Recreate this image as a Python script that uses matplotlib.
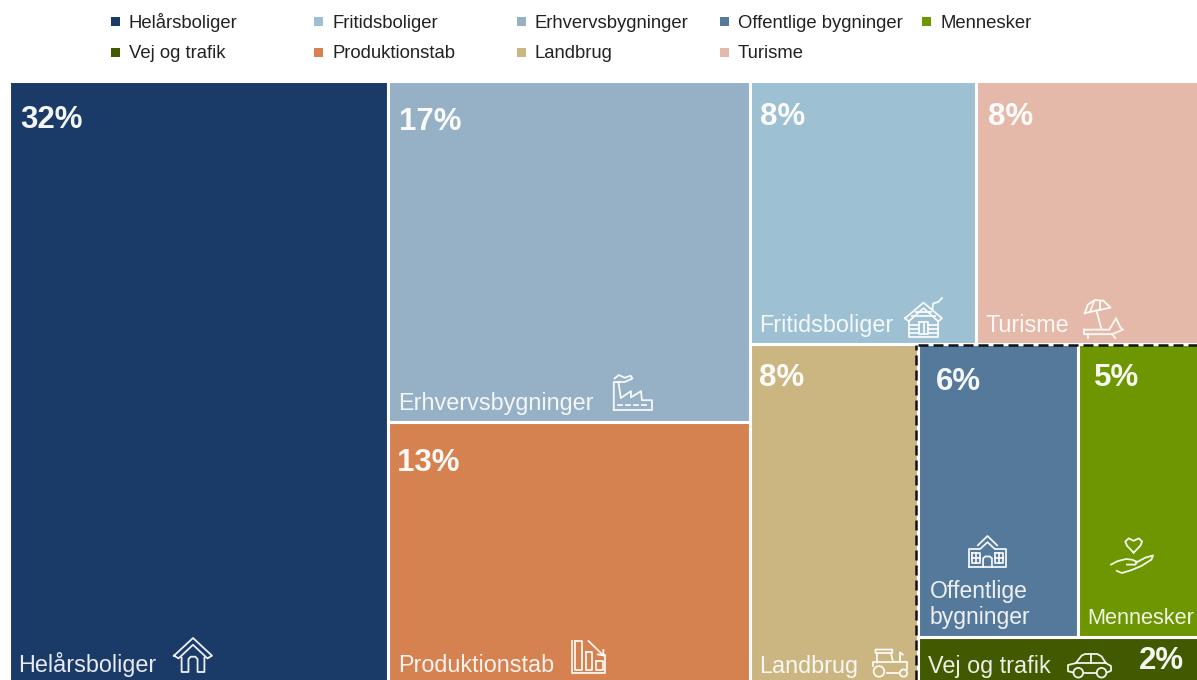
import numpy as np
import matplotlib
matplotlib.use("Agg")
import matplotlib.pyplot as plt
from matplotlib.patches import Rectangle, Circle

plt.rcParams['font.family'] = ['Liberation Sans', 'DejaVu Sans']

# tile areas (share of the total) and printed labels
names = ["Helårsboliger", "Erhvervsbygninger", "Produktionstab", "Fritidsboliger", "Turisme",
         "Landbrug", "Offentlige\nbygninger", "Mennesker", "Vej og trafik"]
shares = [31.87, 17.35, 13.17, 8.35, 8.16, 7.91, 6.58, 4.87, 1.74]
pct_labels = ["32%", "17%", "13%", "8%", "8%", "8%", "6%", "5%", "2%"]
colors = ["#1A3A68", "#96B0C5", "#D58250", "#9DC1D2", "#E5B9A9",
          "#CBB682", "#55799B", "#6E9600", "#415A00"]

legend_row1 = [0, 3, 1, 6, 7]
legend_row2 = [8, 2, 5, 4]
legend_x1 = [111, 314, 517, 720, 922]
legend_x2 = [111, 314, 517, 720]

# how the tiles nest: "x" splits sideways, "y" splits downwards
tree = ("x", [0,
              ("y", [1, 2]),
              ("y", [("x", [3, 4]),
                     ("x", [5,
                            ("y", [("x", [6, 7]), 8])])])])


def total(node):
    if isinstance(node, int):
        return shares[node]
    return sum(total(c) for c in node[1])


def layout(node, x0, y0, x1, y1, out):
    if isinstance(node, int):
        out[node] = (x0, y0, x1, y1)
        return
    t = total(node)
    pos = x0 if node[0] == "x" else y0
    for c in node[1]:
        if node[0] == "x":
            end = pos + (x1 - x0) * total(c) / t
            layout(c, pos, y0, end, y1, out)
        else:
            end = pos + (y1 - y0) * total(c) / t
            layout(c, x0, pos, x1, end, out)
        pos = end


# small line icons, in a 0-1 box
house = [[(0, .52), (.5, 0), (1, .52), (.88, .6), (.5, .2), (.12, .6), (0, .52)],
         [(.2, .58), (.2, 1), (.38, 1), (.38, .62), (.44, .55), (.56, .55), (.62, .62), (.62, 1), (.8, 1), (.8, .58)]]
factory = [[(.02, 1), (.02, .2), (.14, .2), (.2, .66), (.46, .46), (.46, .64), (.72, .46),
            (.74, .72), (1, .72), (1, 1), (.02, 1)],
           [(.04, .1), (.15, 0), (.3, .08), (.45, .02), (.5, .1), (.3, .2), (.14, .2)],
           [(.14, .86), (.24, .86)], [(.34, .86), (.44, .86)], [(.54, .86), (.64, .86)], [(.74, .86), (.84, .86)]]
bars = [[(0, 0), (0, 1), (1, 1), (1, .45)],
        [(.1, 0), (.3, 0), (.3, .9), (.1, .9), (.1, 0)],
        [(.42, .35), (.62, .35), (.62, .9), (.42, .9), (.42, .35)],
        [(.72, .62), (.93, .62), (.93, .9), (.72, .9), (.72, .62)],
        [(.5, 0), (.95, .45)], [(.78, .42), (.95, .45), (.95, .28)]]
cabin = [[(0, .52), (.5, .12), (1, .52), (.9, .6), (.5, .26), (.1, .6), (0, .52)],
         [(.12, .6), (.12, 1), (.88, 1), (.88, .6)],
         [(.12, .7), (.38, .7)], [(.12, .8), (.38, .8)], [(.12, .9), (.38, .9)],
         [(.62, .7), (.88, .7)], [(.62, .8), (.88, .8)], [(.62, .9), (.88, .9)],
         [(.38, .62), (.62, .62), (.62, .92), (.38, .92), (.38, .62)], [(.5, .62), (.5, .92)],
         [(.3, .36), (.7, .36)], [(.2, .46), (.8, .46)],
         [(.74, .3), (.76, .14), (.9, .1), (1, 0)]]
beach = [[(0, .78), (.65, .78), (.82, .48), (.93, .72), (1, .78), (.72, .9), (0, .9), (0, .78)],
         [(.1, .9), (.1, 1)], [(.72, .9), (.8, 1)],
         [(.02, .35), (.1, .12), (.28, 0), (.5, .02), (.68, .2), (.5, .24), (.3, .28), (.02, .35)],
         [(.16, .3), (.26, .03)], [(.42, .25), (.42, .02)], [(.32, .28), (.44, .74)]]
tractor = [[(.14, .48), (.14, .14), (.1, .14), (.1, .02), (.58, .02), (.58, .14), (.54, .14), (.6, .46), (1, .46), (1, .72)],
           [(.14, .14), (.54, .14)], [(.04, .62), (.04, .48), (.6, .48)],
           [(.8, .46), (.8, .12), (.88, .2)], [(.42, .84), (.76, .84)]]
school = [[(0, 1), (0, .42), (.3, .42), (.5, .2), (.7, .42), (1, .42), (1, 1), (0, 1)],
          [(.24, .3), (.5, 0), (.76, .3)],
          [(.38, 1), (.38, .72), (.44, .66), (.56, .66), (.62, .72), (.62, 1)],
          [(.08, .55), (.3, .55), (.3, .86), (.08, .86), (.08, .55)],
          [(.7, .55), (.92, .55), (.92, .86), (.7, .86), (.7, .55)],
          [(.19, .55), (.19, .86)], [(.81, .55), (.81, .86)],
          [(.08, .7), (.3, .7)], [(.7, .7), (.92, .7)]]
hand = [[(0, .76), (.16, .66), (.36, .6), (.5, .62), (.62, .68), (.58, .76), (.38, .76)],
        [(.6, .7), (.82, .56), (1, .5), (.96, .62), (.72, .8), (.48, .92), (.26, 1), (.14, .94)],
        [(.54, .42), (.38, .22), (.34, .1), (.42, .01), (.54, .08), (.66, .01), (.74, .1), (.7, .22), (.54, .42)]]
car = [[(.1, .76), (0, .72), (0, .46), (.18, .38), (.32, .06), (.4, 0), (.68, 0), (.78, .1), (.88, .38),
        (1, .5), (1, .7), (.92, .76)],
       [(.18, .38), (.88, .38)], [(.53, 0), (.53, .38)], [(.38, .78), (.64, .78)]]
icons = [house, factory, bars, cabin, beach, tractor, school, hand, car]
icon_boxes = [(174, 638, 212, 672), (613, 375, 652, 410), (572, 641, 605, 673), (905, 298, 942, 337),
              (1084, 300, 1123, 338), (872, 649, 907, 677), (969, 536, 1006, 567), (1111, 538, 1153, 573),
              (1068, 654, 1111, 678)]

# text anchors (baselines), pixels from the tile corners
pct_off = [(11, 47), (11, 49), (9, 49), (10, 44), (12, 44), (9, 42), (18, 46), (16, 42), (221, 32)]
lab_off = [(9, -8), (11, -12), (11, -8), (9, -12), (9, -12), (9, -7), (12, -13), (9, -13), (10, -7)]
lab_size = [16.8, 16.8, 16.8, 16.8, 16.8, 16.8, 16.5, 15.7, 16.8]

fig = plt.figure(figsize=(11.97, 6.80), dpi=100)
ax = fig.add_axes([0, 0, 1, 1])
ax.set_xlim(0, 1197)
ax.set_ylim(680, 0)
ax.axis("off")

tiles = {}
layout(tree, 9, 81, 1197, 681, tiles)

for i, name in enumerate(names):
    x0, y0, x1, y1 = tiles[i]
    # tiles on the right and bottom run off the picture, no white edge there
    rx1 = x1 + 4 if x1 > 1196 else x1
    ry1 = y1 + 4 if y1 > 680 else y1
    ax.add_patch(Rectangle((x0, y0), rx1 - x0, ry1 - y0, fc=colors[i], ec="white", lw=2.2))
    ax.text(x0 + pct_off[i][0], y0 + pct_off[i][1], pct_labels[i], color="white", fontsize=22.5,
            fontweight="bold", va="baseline", ha="left", alpha=.95)
    ax.text(x0 + lab_off[i][0], min(y1, 680) + lab_off[i][1], name, color="white", fontsize=lab_size[i],
            va="baseline", ha="left", alpha=.9, linespacing=1.12)

    bx0, by0, bx1, by1 = icon_boxes[i]
    for line in icons[i]:
        pts = np.array(line)
        ax.plot(bx0 + pts[:, 0] * (bx1 - bx0), by0 + pts[:, 1] * (by1 - by0), color="white", lw=1.3,
                solid_joinstyle="round", alpha=.92)

# wheels
wheels = [(5, .2, .8, .19), (5, .9, .86, .13), (8, .24, .78, .2), (8, .78, .78, .2)]
for idx, u, v, r in wheels:
    bx0, by0, bx1, by1 = icon_boxes[idx]
    ax.add_patch(Circle((bx0 + u * (bx1 - bx0), by0 + v * (by1 - by0)), r * (by1 - by0), fc="none",
                        ec="white", lw=1.3, alpha=.92))

# dashed outline round the public group
x_left = tiles[6][0] - 2
y_top = tiles[6][1] + 1
ax.plot([x_left, x_left], [680, y_top], color="#111111", lw=1.8, ls=(0, (4, 2)))
ax.plot([x_left + 2, 1197], [y_top, y_top], color="#111111", lw=1.8, ls=(0, (4, 2)))

# legend
for row, xs, y in ((legend_row1, legend_x1, 22), (legend_row2, legend_x2, 53)):
    for i, x in zip(row, xs):
        ax.add_patch(Rectangle((x, y - 5), 9, 9, fc=colors[i], ec="none"))
        ax.text(x + 18, y + 5.5, names[i].replace("\n", " "), fontsize=13.3, color="#222222",
                va="baseline", ha="left")

fig.savefig("out.png", dpi=100)
